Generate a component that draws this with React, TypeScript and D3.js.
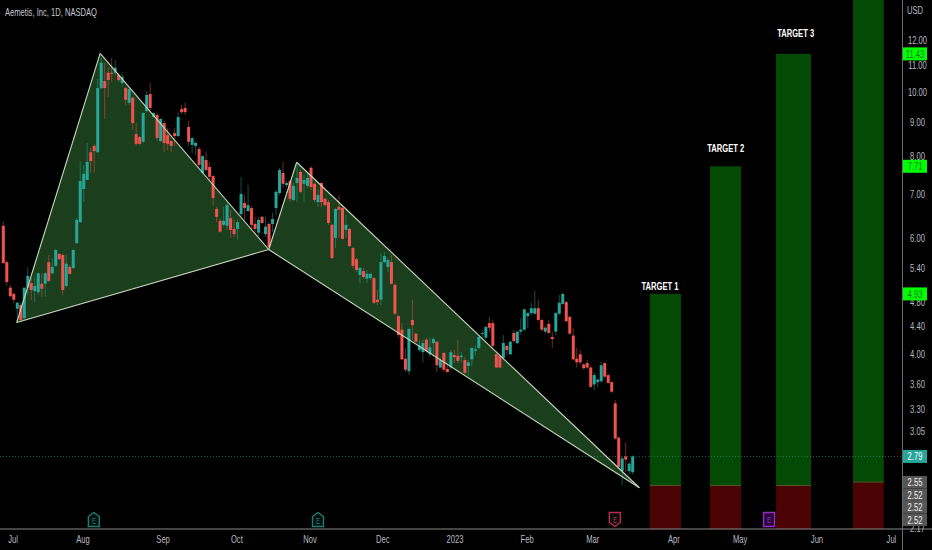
import { useEffect, useRef } from "react";
import * as d3 from "d3";

const WIDTH = 932;
const HEIGHT = 550;
const PANE_RIGHT = 902.5;
const PANE_BOTTOM = 529;
const CHART_FONT = "'Liberation Sans', sans-serif";
const NARROW = 0.66; // the reference type is squeezed horizontally

const opens = [
  6.26, 5.51, 5.04, 4.93, 4.68, 4.74, 4.53, 5.04, 5.12, 4.98,
  4.96, 5.11, 5.11, 5.51, 5.3, 5.44, 5.67, 5.65, 5.07, 5.42,
  5.4, 5.89, 6.34, 7.12, 7.35, 8.1, 8.28, 8.1, 10.14, 10.39,
  10.7, 10.7, 10.7, 10.62, 10.32, 10.14, 9.63, 9.8, 8.63, 8.54,
  8.4, 9.36, 9.93, 9.16, 9.23, 8.42, 8.97, 8.6, 8.42, 8.66,
  8.57, 9.42, 9.46, 8.85, 8.31, 8.28, 8.19, 7.53, 7.88, 7.69,
  7.45, 6.64, 6.37, 6.28, 6.26, 6.43, 6.19, 6.19, 6.52, 6.78,
  6.59, 6.66, 6.3, 6.11, 6.46, 6.08, 6.3, 6.3, 6.66, 7.02,
  7.53, 7.22, 7.32, 6.85, 7.27, 7.56, 7.25, 7.2, 7.67, 7.25,
  6.8, 7.27, 6.88, 6.8, 6.28, 6.0, 6.69, 6.66, 6.17, 6.19,
  5.79, 5.57, 5.27, 5.34, 5.2, 5.21, 5.21, 4.83, 4.83, 5.51,
  5.42, 5.51, 5.09, 4.56, 4.35, 3.93, 3.76, 4.5, 4.29, 4.05,
  4.02, 4.2, 3.99, 4.15, 4.17, 3.81, 4.01, 3.79, 3.81, 3.98,
  3.97, 3.95, 3.91, 3.83, 3.92, 4.04, 4.08, 4.29, 4.23, 4.45,
  4.45, 3.99, 3.97, 3.94, 4.11, 3.99, 4.3, 4.15, 4.32, 4.35,
  4.56, 4.61, 4.6, 4.69, 4.5, 4.32, 4.44, 4.24, 4.32, 4.6,
  4.76, 4.79, 4.55, 4.26, 3.93, 3.99, 3.85, 3.87, 3.81, 3.59,
  3.62, 3.63, 3.87, 3.71, 3.62, 3.36, 2.98, 2.65, 2.79, 2.65, 2.64,
];

const highs = [
  6.36, 5.55, 5.09, 4.96, 4.79, 4.78, 5.04, 5.42, 5.21, 5.23,
  5.3, 5.3, 5.32, 5.65, 5.59, 5.77, 5.69, 5.69, 5.65, 5.46,
  5.77, 6.43, 7.85, 7.75, 8.36, 8.22, 8.34, 10.47, 11.27, 11.08,
  10.89, 11.27, 11.19, 10.7, 10.7, 10.18, 10.14, 9.83, 8.97, 8.57,
  9.32, 10.04, 10.32, 9.32, 9.29, 9.13, 9.04, 8.82, 8.45, 8.82,
  9.32, 9.56, 9.63, 9.04, 8.54, 8.4, 8.25, 8.02, 8.1, 7.83,
  7.48, 6.69, 6.41, 6.69, 6.78, 6.62, 6.39, 6.39, 7.43, 6.97,
  7.22, 6.71, 6.46, 6.46, 6.48, 6.46, 6.34, 6.55, 7.1, 7.67,
  7.83, 7.32, 7.35, 7.27, 7.8, 7.61, 7.48, 7.56, 7.72, 7.27,
  7.1, 7.3, 6.9, 6.85, 6.3, 6.66, 6.97, 6.69, 6.5, 6.21,
  5.81, 5.59, 5.42, 5.4, 5.36, 5.3, 5.23, 5.0, 5.69, 5.71,
  5.59, 5.65, 5.11, 4.58, 4.45, 4.08, 4.38, 4.83, 4.3, 4.2,
  4.2, 4.23, 4.24, 4.24, 4.18, 3.94, 4.02, 3.87, 4.05, 4.05,
  4.2, 4.02, 3.95, 3.91, 4.09, 4.12, 4.27, 4.35, 4.41, 4.55,
  4.5, 4.01, 3.99, 4.27, 4.12, 4.18, 4.35, 4.33, 4.53, 4.69,
  4.63, 4.78, 4.98, 4.83, 4.52, 4.41, 4.5, 4.32, 4.63, 4.91,
  4.95, 4.81, 4.56, 4.38, 4.08, 4.05, 3.87, 3.91, 3.83, 3.74,
  3.67, 3.88, 3.88, 3.72, 3.63, 3.4, 2.99, 2.79, 2.93, 2.74, 2.8,
];

const lows = [
  5.49, 5.07, 4.88, 4.78, 4.48, 4.47, 4.5, 4.9, 4.83, 4.79,
  4.91, 4.88, 4.88, 5.14, 5.27, 5.42, 5.55, 4.91, 5.04, 5.27,
  5.38, 5.87, 6.32, 6.8, 7.35, 7.53, 7.53, 8.08, 10.1, 9.1,
  9.83, 10.36, 10.62, 10.36, 10.25, 9.56, 9.56, 8.76, 8.28, 8.31,
  8.37, 9.32, 9.32, 9.13, 8.45, 8.4, 8.1, 8.16, 8.1, 8.28,
  8.54, 9.26, 9.23, 8.28, 8.08, 8.02, 7.69, 7.51, 7.56, 7.35,
  6.73, 6.34, 6.11, 6.24, 6.17, 6.0, 6.02, 5.96, 6.46, 6.39,
  6.57, 6.17, 6.11, 6.04, 6.3, 6.02, 5.79, 6.13, 6.5, 6.97,
  7.15, 7.17, 6.8, 6.83, 6.8, 7.02, 6.8, 7.15, 7.1, 6.8,
  6.69, 6.69, 6.69, 6.28, 5.57, 5.79, 6.0, 5.96, 6.0, 5.81,
  5.4, 5.32, 5.12, 5.2, 5.12, 5.18, 4.76, 4.74, 4.74, 5.49,
  5.32, 5.09, 4.58, 4.23, 3.91, 3.75, 3.71, 4.2, 4.16, 4.02,
  3.88, 4.01, 3.95, 3.95, 3.75, 3.8, 3.75, 3.74, 3.78, 3.87,
  3.87, 3.88, 3.72, 3.7, 3.83, 3.98, 4.06, 4.2, 4.2, 4.32,
  4.09, 3.8, 3.8, 3.91, 3.98, 3.98, 4.15, 4.14, 4.27, 4.33,
  4.38, 4.58, 4.58, 4.48, 4.32, 4.29, 4.29, 4.08, 4.27, 4.58,
  4.74, 4.47, 4.27, 3.91, 3.81, 3.85, 3.78, 3.79, 3.55, 3.52,
  3.55, 3.61, 3.67, 3.6, 3.48, 2.96, 2.68, 2.52, 2.64, 2.62, 2.62,
];

const closes = [
  5.49, 5.14, 4.89, 4.83, 4.78, 4.5, 5.04, 5.25, 5.0, 5.07,
  5.3, 5.02, 5.3, 5.16, 5.42, 5.75, 5.57, 5.0, 5.48, 5.29,
  5.75, 6.39, 7.32, 7.51, 7.83, 7.85, 8.13, 10.14, 11.08, 10.14,
  10.43, 10.66, 10.89, 10.43, 10.55, 9.73, 10.1, 8.97, 8.34, 8.34,
  9.29, 9.9, 9.46, 9.29, 8.51, 9.1, 8.37, 8.34, 8.28, 8.57,
  9.16, 9.32, 9.32, 8.4, 8.51, 8.37, 7.75, 7.99, 7.61, 7.43,
  6.9, 6.46, 6.13, 6.37, 6.73, 6.17, 6.08, 6.34, 7.0, 6.66,
  6.73, 6.28, 6.19, 6.39, 6.32, 6.24, 5.81, 6.41, 7.05, 7.61,
  7.25, 7.27, 6.88, 7.2, 7.4, 7.05, 7.35, 7.4, 7.17, 6.85,
  6.97, 6.8, 6.73, 6.32, 5.59, 6.64, 6.62, 5.98, 6.28, 5.83,
  5.44, 5.36, 5.4, 5.23, 5.29, 5.29, 4.78, 4.79, 5.51, 5.63,
  5.55, 5.11, 4.6, 4.27, 3.92, 3.78, 4.36, 4.42, 4.17, 4.11,
  4.15, 4.04, 4.09, 4.21, 3.84, 3.91, 3.78, 3.75, 4.02, 3.95,
  3.9, 3.97, 3.74, 3.88, 4.08, 4.06, 4.24, 4.3, 4.39, 4.38,
  4.11, 3.81, 3.81, 4.15, 4.05, 4.17, 4.18, 4.32, 4.35, 4.67,
  4.61, 4.69, 4.69, 4.5, 4.35, 4.38, 4.3, 4.21, 4.61, 4.78,
  4.93, 4.48, 4.29, 3.92, 3.88, 3.88, 3.8, 3.81, 3.56, 3.71,
  3.65, 3.84, 3.69, 3.61, 3.5, 2.97, 2.69, 2.77, 2.76, 2.72, 2.79,
];

// XABCD pattern pivots: [bar, price]
const pivotX: [number, number] = [3.83, 4.46];
const pivotA: [number, number] = [27.7, 11.45];
const pivotB: [number, number] = [75.9, 5.76];
const pivotC: [number, number] = [83.9, 7.82];
const pivotD: [number, number] = [181.9, 2.5];

const targetLabels = ["TARGET 1", "TARGET 2", "TARGET 3", ""];
const targetPrices = [4.93, 7.71, 11.43, 15.14];
const stopPrices = [2.52, 2.52, 2.52, 2.55];
const targetStartBars = [184.9, 202.1, 221, 243];
const targetEndBars = [193.8, 211, 231, 251.8];
const labelBars = [187.8, 206.6, 226.6, 0];
const labelPrices = [5.0, 8.1, 12.13, 0];
const floorPrice = 2.0;

const priceTicks = [12, 11, 10, 9, 8, 7, 6, 5.4, 4.8, 4.4, 4, 3.6, 3.3, 3.05, 2.17];
const timeLabels = ["Jul", "Aug", "Sep", "Oct", "Nov", "Dec", "2023", "Feb", "Mar", "Apr", "May", "Jun", "Jul"];
const timeBars = [2.8, 22.8, 45.7, 66.8, 87.7, 108.5, 129.2, 149.8, 168.6, 191.8, 210.7, 232.7, 254];

const lastPrice = 2.79;
const stopBadges = ["2.55", "2.52", "2.52", "2.52"];
const earningsBars = [25.9, 90, 174.9, 219];
const earningsKinds = ["beat", "beat", "miss", "next"];

const TEAL = "#26a69a";
const RED = "#ef5350";

// squeeze a text node to the narrow look of the reference
function squeeze(sel: d3.Selection<SVGTextElement, unknown, null, undefined>) {
  const node = sel.node();
  if (!node) return sel;
  sel.attr("textLength", node.getComputedTextLength() * NARROW).attr("lengthAdjust", "spacingAndGlyphs");
  return sel;
}

export default function App() {
  const svgRef = useRef<SVGSVGElement>(null);

  useEffect(() => {
    if (!svgRef.current) return;
    const svg = d3.select(svgRef.current);
    svg.selectAll("*").remove();

    const xScale = d3.scaleLinear().domain([0, 180]).range([3.3, 632.7]);
    const yScale = d3.scaleLog().domain([12, 3.05]).range([40, 431]);

    svg.append("rect").attr("width", WIDTH).attr("height", HEIGHT).attr("fill", "#000");

    svg
      .append("clipPath")
      .attr("id", "pane")
      .append("rect")
      .attr("width", PANE_RIGHT)
      .attr("height", PANE_BOTTOM);

    const pane = svg.append("g").attr("clip-path", "url(#pane)");

    // target / stop columns
    targetPrices.forEach((price, i) => {
      const left = xScale(targetStartBars[i]);
      const w = xScale(targetEndBars[i]) - left;
      pane
        .append("rect")
        .attr("x", left)
        .attr("y", yScale(price))
        .attr("width", w)
        .attr("height", yScale(stopPrices[i]) - yScale(price))
        .attr("fill", "#034a05");
      pane
        .append("rect")
        .attr("x", left)
        .attr("y", yScale(stopPrices[i]))
        .attr("width", w)
        .attr("height", yScale(floorPrice) - yScale(stopPrices[i]))
        .attr("fill", "#4b0202");
      pane
        .append("line")
        .attr("x1", left)
        .attr("x2", left + w)
        .attr("y1", yScale(stopPrices[i]))
        .attr("y2", yScale(stopPrices[i]))
        .attr("stroke", "#5c6b2e")
        .attr("stroke-width", 0.8);
      if (targetLabels[i]) {
        squeeze(
          pane
            .append("text")
            .attr("x", xScale(labelBars[i]))
            .attr("y", yScale(labelPrices[i]))
            .attr("text-anchor", "middle")
            .attr("fill", "#fff")
            .attr("font-family", CHART_FONT)
            .attr("font-weight", 700)
            .attr("font-size", 11.5)
            .text(targetLabels[i])
        );
      }
    });

    // pattern fill sits under the candles
    const toPoint = (p: [number, number]): [number, number] => [xScale(p[0]), yScale(p[1])];
    const polyLine = d3.line();
    [
      [pivotX, pivotA, pivotB],
      [pivotB, pivotC, pivotD],
    ].forEach((tri) => {
      pane
        .append("path")
        .attr("d", polyLine(tri.map(toPoint)) + "Z")
        .attr("fill", "#1b3f1c");
    });

    // last price line
    pane
      .append("line")
      .attr("x1", 0)
      .attr("x2", PANE_RIGHT)
      .attr("y1", yScale(lastPrice))
      .attr("y2", yScale(lastPrice))
      .attr("stroke", TEAL)
      .attr("stroke-opacity", 0.75)
      .attr("stroke-width", 0.8)
      .attr("stroke-dasharray", "1,2");

    // candles
    const candles = pane.append("g");
    opens.forEach((open, i) => {
      const close = closes[i];
      const color = close >= open ? TEAL : RED;
      const cx = xScale(i);
      candles
        .append("line")
        .attr("x1", cx)
        .attr("x2", cx)
        .attr("y1", yScale(highs[i]))
        .attr("y2", yScale(lows[i]))
        .attr("stroke", color)
        .attr("stroke-opacity", 0.55)
        .attr("stroke-width", 0.9);
      const top = yScale(Math.max(open, close));
      const bottom = yScale(Math.min(open, close));
      candles
        .append("rect")
        .attr("x", cx - 1.5)
        .attr("y", top)
        .attr("width", 3)
        .attr("height", Math.max(1, bottom - top))
        .attr("fill", color);
    });

    // pattern outline goes on top
    [
      [pivotX, pivotA],
      [pivotA, pivotB],
      [pivotB, pivotX],
      [pivotB, pivotC],
      [pivotC, pivotD],
      [pivotD, pivotB],
    ].forEach((seg) => {
      pane
        .append("path")
        .attr("d", polyLine(seg.map(toPoint)))
        .attr("fill", "none")
        .attr("stroke", "#c8d8c0")
        .attr("stroke-width", 1.1);
    });

    // earnings markers
    earningsBars.forEach((bar, i) => {
      const kind = earningsKinds[i];
      const cx = xScale(bar);
      const color = kind === "beat" ? "#17806f" : kind === "miss" ? "#c2284f" : "#9c27c9";
      const shape =
        kind === "beat"
          ? "M-5.5,-3.5 L0,-7.5 L5.5,-3.5 L5.5,6.5 L-5.5,6.5 Z"
          : kind === "miss"
            ? "M-5.5,-7 L5.5,-7 L5.5,3 L0,7 L-5.5,3 Z"
            : "M-5.5,-7 L5.5,-7 L5.5,7 L-5.5,7 Z";
      const g = pane.append("g").attr("transform", `translate(${cx},${kind === "beat" ? 520 : 519.5})`);
      g.append("path")
        .attr("d", shape)
        .attr("fill", kind === "next" ? "#2a0a3a" : "#08100f")
        .attr("stroke", color)
        .attr("stroke-width", 1.4);
      squeeze(
        g
          .append("text")
          .attr("y", 3.5)
          .attr("text-anchor", "middle")
          .attr("fill", color)
          .attr("font-family", CHART_FONT)
          .attr("font-size", 9)
          .text("E")
      );
    });

    // axes
    svg
      .append("line")
      .attr("x1", PANE_RIGHT)
      .attr("x2", PANE_RIGHT)
      .attr("y1", 0)
      .attr("y2", HEIGHT)
      .attr("stroke", "#6a6a6a")
      .attr("stroke-width", 1);
    svg
      .append("line")
      .attr("x1", 0)
      .attr("x2", WIDTH)
      .attr("y1", PANE_BOTTOM)
      .attr("y2", PANE_BOTTOM)
      .attr("stroke", "#8a8a8a")
      .attr("stroke-width", 1);

    const axisText = (x: number, y: number, label: string) =>
      squeeze(
        svg
          .append("text")
          .attr("x", x)
          .attr("y", y)
          .attr("text-anchor", "middle")
          .attr("fill", "#b8bbc2")
          .attr("font-family", CHART_FONT)
          .attr("font-size", 11.5)
          .text(label)
      );

    axisText(915, 14, "USD");
    priceTicks.forEach((p) => axisText(917.5, yScale(p) + 4, p.toFixed(2)));
    timeLabels.forEach((label, i) => axisText(xScale(timeBars[i]), 543, label));

    // price badges
    const badge = (y: number, h: number, fill: string, textFill: string, label: string) => {
      svg.append("rect").attr("x", 903).attr("y", y - h / 2).attr("width", 24).attr("height", h).attr("fill", fill);
      squeeze(
        svg
          .append("text")
          .attr("x", 915)
          .attr("y", y + 4)
          .attr("text-anchor", "middle")
          .attr("fill", textFill)
          .attr("font-family", CHART_FONT)
          .attr("font-size", 11.5)
          .text(label)
      );
    };
    targetPrices.slice(0, 3).forEach((p) => badge(yScale(p), 13, "#00ff00", "#0c7a1e", p.toFixed(2)));
    badge(yScale(lastPrice), 13, TEAL, "#fff", lastPrice.toFixed(2));
    stopBadges.forEach((label, i) => badge(482.2 + i * 12.5, 12.5, "#565656", "#f2f2f2", label));

    squeeze(
      svg
        .append("text")
        .attr("x", 5)
        .attr("y", 16)
        .attr("fill", "#c4c6cc")
        .attr("font-family", CHART_FONT)
        .attr("font-size", 11.5)
        .text("Aemetis, Inc, 1D, NASDAQ")
    );
  }, []);

  return (
    <svg
      ref={svgRef}
      width={WIDTH}
      height={HEIGHT}
      style={{ position: "absolute", left: 0, top: 0, display: "block" }}
    />
  );
}
